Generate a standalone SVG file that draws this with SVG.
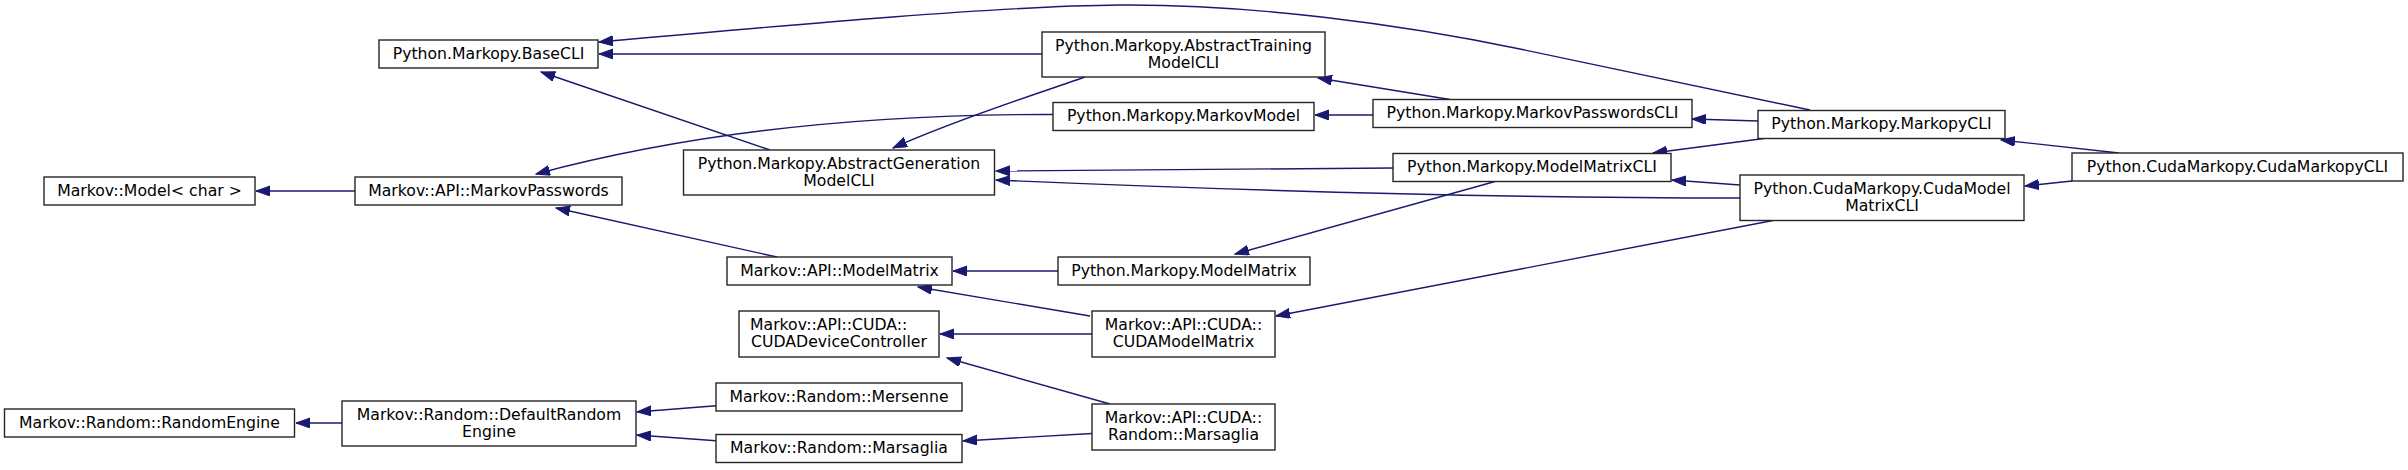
<svg xmlns="http://www.w3.org/2000/svg" width="2408" height="470" viewBox="0 0 2408 470">
<style>
.n rect{fill:#ffffff;stroke:#262626;stroke-width:1.4}
.n text{font-family:"DejaVu Sans","Liberation Sans",sans-serif;font-size:15.7px;fill:#000;text-anchor:middle}
.n text.l{text-anchor:start}
.e path{fill:none;stroke:#191970;stroke-width:1.4;marker-end:url(#ah)}
</style>
<defs>
<marker id="ah" markerUnits="userSpaceOnUse" markerWidth="16" markerHeight="12" refX="14" refY="5" orient="auto">
<path d="M0,0 L14,5 L0,10 z" fill="#191970" stroke="#191970" stroke-width="1"/>
</marker>
</defs>
<rect width="2408" height="470" fill="#ffffff"/>
<g id="edges" class="e">
<path d="M355,191 L256,191"/>
<path d="M1053,114.5 C880,114 700,130 536,174"/>
<path d="M770,150 L541,72"/>
<path d="M1042,54 L599,54"/>
<path d="M1810,110 L1520,49 C1400,24 1250,4 1120,5 C1000,6 800,24 599,42"/>
<path d="M1085,77 C1040,93 960,118 893,148"/>
<path d="M1450,99.5 L1318,78"/>
<path d="M1373,115 L1315,115"/>
<path d="M1758,121 L1692,119"/>
<path d="M1764,138.5 L1653,153"/>
<path d="M1393,168 L996,171"/>
<path d="M1740,198 C1500,198 1250,191 996,180"/>
<path d="M1740,185 L1672,180"/>
<path d="M2119,153 L2001,140"/>
<path d="M2072,181 L2025,186"/>
<path d="M777,257 L556,208"/>
<path d="M1058,271 L953,271"/>
<path d="M1495,181.5 L1235,254"/>
<path d="M1090,316 L918,287"/>
<path d="M1092,334 L940,334"/>
<path d="M1773,220.5 L1276,316"/>
<path d="M1110,404 L947,358"/>
<path d="M1092,433.5 L963,441"/>
<path d="M716,405.7 L637,412"/>
<path d="M716,440.7 L637,435"/>
<path d="M342,423 L296,423"/>
</g>
<g id="n_model" class="n"><rect x="44" y="177" width="211" height="28"/><text x="149.5" y="195.5">Markov::Model&lt; char &gt;</text></g>
<g id="n_markovpasswords" class="n"><rect x="355" y="177" width="267" height="28"/><text x="488.5" y="195.5">Markov::API::MarkovPasswords</text></g>
<g id="n_basecli" class="n"><rect x="379" y="40" width="219" height="28"/><text x="488.5" y="58.5">Python.Markopy.BaseCLI</text></g>
<g id="n_abstractgen" class="n"><rect x="683.5" y="150" width="311" height="45"/><text x="839" y="168.5">Python.Markopy.AbstractGeneration</text><text x="839" y="185.5">ModelCLI</text></g>
<g id="n_abstracttrain" class="n"><rect x="1042" y="32" width="283" height="45"/><text x="1183.5" y="50.5">Python.Markopy.AbstractTraining</text><text x="1183.5" y="67.5">ModelCLI</text></g>
<g id="n_markovmodel" class="n"><rect x="1053" y="102.5" width="261" height="28"/><text x="1183.5" y="121">Python.Markopy.MarkovModel</text></g>
<g id="n_markovpasswordscli" class="n"><rect x="1373" y="99.5" width="319" height="28"/><text x="1532.5" y="118">Python.Markopy.MarkovPasswordsCLI</text></g>
<g id="n_markopycli" class="n"><rect x="1758" y="110.5" width="247" height="28"/><text x="1881.5" y="129">Python.Markopy.MarkopyCLI</text></g>
<g id="n_modelmatrixcli" class="n"><rect x="1393" y="153.5" width="278" height="28"/><text x="1532" y="172">Python.Markopy.ModelMatrixCLI</text></g>
<g id="n_cudamodelmatrixcli" class="n"><rect x="1740" y="175" width="284" height="45.5"/><text x="1882" y="193.5">Python.CudaMarkopy.CudaModel</text><text x="1882" y="210.5">MatrixCLI</text></g>
<g id="n_cudamarkopycli" class="n"><rect x="2072" y="153" width="331" height="28"/><text x="2237.5" y="171.5">Python.CudaMarkopy.CudaMarkopyCLI</text></g>
<g id="n_apimodelmatrix" class="n"><rect x="727" y="257" width="225" height="28"/><text x="839.5" y="275.5">Markov::API::ModelMatrix</text></g>
<g id="n_pymodelmatrix" class="n"><rect x="1058" y="257" width="252" height="28"/><text x="1184" y="275.5">Python.Markopy.ModelMatrix</text></g>
<g id="n_cudadevice" class="n"><rect x="739" y="311" width="200" height="46"/><text class="l" x="750" y="329.5">Markov::API::CUDA::</text><text x="839" y="346.5">CUDADeviceController</text></g>
<g id="n_cudamodelmatrix" class="n"><rect x="1092" y="311" width="183" height="46"/><text x="1183.5" y="329.5">Markov::API::CUDA::</text><text x="1183.5" y="346.5">CUDAModelMatrix</text></g>
<g id="n_randomengine" class="n"><rect x="4.5" y="409" width="290" height="28"/><text x="149.5" y="427.5">Markov::Random::RandomEngine</text></g>
<g id="n_defaultrandom" class="n"><rect x="342" y="401" width="294" height="45"/><text x="489" y="419.5">Markov::Random::DefaultRandom</text><text x="489" y="436.5">Engine</text></g>
<g id="n_mersenne" class="n"><rect x="716" y="383" width="246" height="28"/><text x="839" y="401.5">Markov::Random::Mersenne</text></g>
<g id="n_marsaglia" class="n"><rect x="716" y="434.5" width="246" height="28"/><text x="839" y="453">Markov::Random::Marsaglia</text></g>
<g id="n_cudamarsaglia" class="n"><rect x="1092" y="404" width="183" height="46"/><text x="1183.5" y="422.5">Markov::API::CUDA::</text><text x="1183.5" y="439.5">Random::Marsaglia</text></g>
</svg>
